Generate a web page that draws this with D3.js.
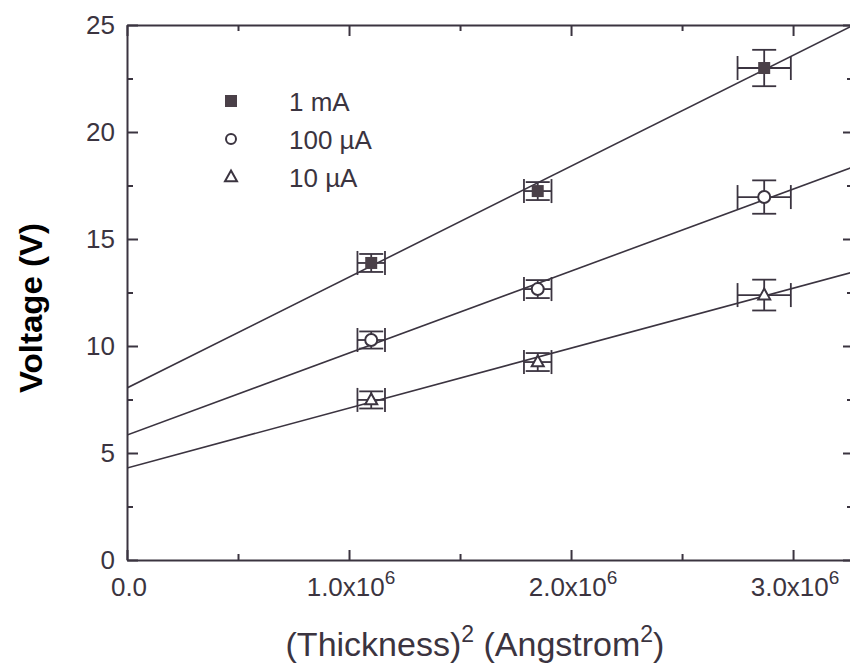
<!DOCTYPE html>
<html>
<head>
<meta charset="utf-8">
<script src="https://cdn.jsdelivr.net/npm/d3@7"></script>
<style>
    body { margin: 0; background: #fff; }
    svg text { font-family: "Liberation Sans", Arial, Helvetica, sans-serif; }
</style>
</head>
<body>
<div id="chart"></div>
<script>
'use strict';

var seriesNames = ["1 mA", "100 \u00b5A", "10 \u00b5A"];
var thickness2 = [1.10e6, 1.85e6, 2.87e6];
var thickness2Err = [0.062e6, 0.062e6, 0.12e6];
var voltage1mA = [13.88, 17.24, 22.99];
var voltage100uA = [10.28, 12.66, 16.96];
var voltage10uA = [7.48, 9.25, 12.38];
var voltageErr1mA = [0.42, 0.42, 0.85];
var voltageErr100uA = [0.40, 0.42, 0.78];
var voltageErr10uA = [0.40, 0.42, 0.72];
var fitIntercepts = [8.04, 5.84, 4.30];
var fitSlopes = [5.18e-6, 3.83e-6, 2.80e-6];
var yTicks = [0, 5, 10, 15, 20, 25];
var yMinorTicks = [2.5, 7.5, 12.5, 17.5, 22.5];
var xTicks = [0, 1e6, 2e6, 3e6];
var xMinorTicks = [0.5e6, 1.5e6, 2.5e6];
var xTickLabels = [["0.0", ""], ["1.0x10", "6"], ["2.0x10", "6"], ["3.0x10", "6"]];

var INK = "#3b3440";
var WIDTH = 850, HEIGHT = 665;
var LEFT = 127, RIGHT = 853, TOP = 25, BOTTOM = 560;

var svg = d3.select("#chart").append("svg")
    .attr("width", WIDTH)
    .attr("height", HEIGHT);

var x = d3.scaleLinear().domain([0, 3.27e6]).range([LEFT, RIGHT]);
var y = d3.scaleLinear().domain([0, 25]).range([BOTTOM, TOP]);

function styleAxis(g) {
    g.select(".domain").attr("stroke", INK).attr("stroke-width", 2);
    g.selectAll(".tick line").attr("stroke", INK).attr("stroke-width", 2);
    g.selectAll(".tick text").attr("fill", INK).attr("font-size", 26)
        .attr("font-family", "Liberation Sans, Arial, sans-serif");
}

// minor ticks first, major axes on top
function minor(axisFn, scale, values, transform) {
    svg.append("g")
        .attr("transform", transform)
        .call(axisFn(scale).tickValues(values).tickSizeInner(-6).tickSizeOuter(0).tickFormat(""))
        .call(styleAxis)
        .select(".domain").remove();
}
minor(d3.axisLeft, y, yMinorTicks, "translate(" + LEFT + ",0)");
minor(d3.axisRight, y, yMinorTicks, "translate(" + RIGHT + ",0)");
minor(d3.axisBottom, x, xMinorTicks, "translate(0," + BOTTOM + ")");
minor(d3.axisTop, x, xMinorTicks, "translate(0," + TOP + ")");

svg.append("g")
    .attr("transform", "translate(" + LEFT + ",0)")
    .call(d3.axisLeft(y).tickValues(yTicks).tickSizeInner(-11).tickSizeOuter(0).tickPadding(12))
    .call(styleAxis);

svg.append("g")
    .attr("transform", "translate(" + RIGHT + ",0)")
    .call(d3.axisRight(y).tickValues(yTicks).tickSizeInner(-10).tickSizeOuter(0).tickFormat(""))
    .call(styleAxis);

svg.append("g")
    .attr("transform", "translate(0," + BOTTOM + ")")
    .call(d3.axisBottom(x).tickValues(xTicks).tickSizeInner(-10).tickSizeOuter(0).tickFormat(""))
    .call(styleAxis);

svg.append("g")
    .attr("transform", "translate(0," + TOP + ")")
    .call(d3.axisTop(x).tickValues(xTicks).tickSizeInner(-11).tickSizeOuter(0).tickFormat(""))
    .call(styleAxis);

// x tick labels with superscript exponent
var xl = svg.append("g").selectAll("text")
    .data(xTicks)
    .enter().append("text")
    .attr("x", function (d) { return x(d) + 2; })
    .attr("y", 596)
    .attr("text-anchor", "middle")
    .attr("fill", INK)
    .attr("font-size", 26);
xl.append("tspan").text(function (d, i) { return xTickLabels[i][0]; });
xl.append("tspan")
    .attr("font-size", 19)
    .attr("dy", -12)
    .text(function (d, i) { return xTickLabels[i][1]; });

// axis titles
var xt = svg.append("text")
    .attr("x", 475)
    .attr("y", 656)
    .attr("text-anchor", "middle")
    .attr("fill", INK)
    .attr("font-size", 34);
xt.append("tspan").text("(Thickness)");
xt.append("tspan").attr("font-size", 23).attr("dy", -14).text("2");
xt.append("tspan").attr("dy", 14).text(" (Angstrom");
xt.append("tspan").attr("font-size", 23).attr("dy", -14).text("2");
xt.append("tspan").attr("dy", 14).text(")");

svg.append("text")
    .attr("transform", "translate(42,308) rotate(-90)")
    .attr("text-anchor", "middle")
    .attr("fill", "#000")
    .attr("font-weight", "bold")
    .attr("font-size", 32)
    .attr("textLength", 170)
    .attr("lengthAdjust", "spacingAndGlyphs")
    .text("Voltage (V)");

// data
var series = [
    { name: seriesNames[0], v: voltage1mA, err: voltageErr1mA, shape: "square" },
    { name: seriesNames[1], v: voltage100uA, err: voltageErr100uA, shape: "circle" },
    { name: seriesNames[2], v: voltage10uA, err: voltageErr10uA, shape: "triangle" }
];

svg.append("clipPath").attr("id", "plotclip")
    .append("rect")
    .attr("x", LEFT).attr("y", TOP)
    .attr("width", RIGHT - LEFT).attr("height", BOTTOM - TOP);

var plot = svg.append("g").attr("clip-path", "url(#plotclip)");

// linear fits
var xDom = x.domain();
plot.selectAll(".fit")
    .data(fitIntercepts)
    .enter().append("line")
    .attr("class", "fit")
    .attr("x1", x(xDom[0]))
    .attr("y1", function (b) { return y(b); })
    .attr("x2", x(xDom[1]))
    .attr("y2", function (b, i) { return y(b + fitSlopes[i] * xDom[1]); })
    .attr("stroke", INK)
    .attr("stroke-width", 1.6);

var CAP = 12;

function drawMarker(g, shape, cx, cy, size) {
    if (shape === "square") {
        g.append("rect")
            .attr("x", cx - size / 2).attr("y", cy - size / 2)
            .attr("width", size).attr("height", size)
            .attr("fill", "#4a4048");
    } else if (shape === "circle") {
        g.append("circle")
            .attr("cx", cx).attr("cy", cy).attr("r", size / 2)
            .attr("fill", "#fff").attr("stroke", INK).attr("stroke-width", 2);
    } else {
        var h = size * 0.9;
        g.append("path")
            .attr("d", "M" + cx + "," + (cy - h * 0.6) +
                "L" + (cx + size / 2) + "," + (cy + h * 0.4) +
                "L" + (cx - size / 2) + "," + (cy + h * 0.4) + "Z")
            .attr("fill", "#fff").attr("stroke", INK).attr("stroke-width", 2);
    }
}

series.forEach(function (s) {
    var g = plot.append("g");
    thickness2.forEach(function (t, i) {
        var cx = x(t), cy = y(s.v[i]);
        var xl0 = x(t - thickness2Err[i]), xl1 = x(t + thickness2Err[i]);
        var yl0 = y(s.v[i] - s.err[i]), yl1 = y(s.v[i] + s.err[i]);
        var eb = g.append("g").attr("stroke", INK).attr("stroke-width", 1.8);
        eb.append("line").attr("x1", xl0).attr("x2", xl1).attr("y1", cy).attr("y2", cy);
        eb.append("line").attr("x1", xl0).attr("x2", xl0).attr("y1", cy - CAP).attr("y2", cy + CAP);
        eb.append("line").attr("x1", xl1).attr("x2", xl1).attr("y1", cy - CAP).attr("y2", cy + CAP);
        eb.append("line").attr("x1", cx).attr("x2", cx).attr("y1", yl0).attr("y2", yl1);
        eb.append("line").attr("x1", cx - CAP).attr("x2", cx + CAP).attr("y1", yl0).attr("y2", yl0);
        eb.append("line").attr("x1", cx - CAP).attr("x2", cx + CAP).attr("y1", yl1).attr("y2", yl1);
        drawMarker(g, s.shape, cx, cy, 12);
    });
});

// legend
var legendY = [101, 139, 177];
series.forEach(function (s, i) {
    var g = svg.append("g");
    drawMarker(g, s.shape, 231, legendY[i], s.shape === "circle" ? 10 : 12);
    g.append("text")
        .attr("x", 289)
        .attr("y", legendY[i] + 10)
        .attr("fill", INK)
        .attr("font-size", 26)
        .text(s.name);
});
</script>
</body>
</html>
